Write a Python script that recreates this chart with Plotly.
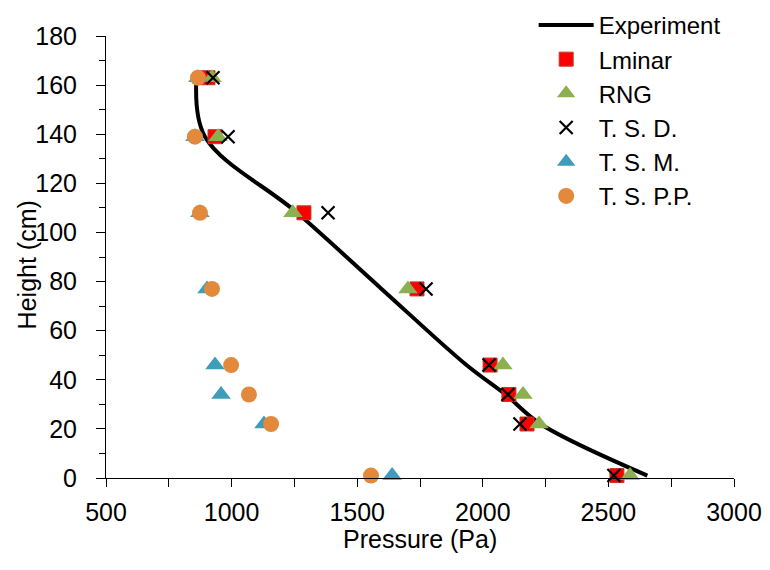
import plotly.graph_objects as go

heights = [163, 139, 108, 77, 46, 34, 22, 1]

exp_p = [860, 894, 1261, 1597, 1935, 2090, 2230, 2655]
lminar_p = [906, 934, 1288, 1738, 2029, 2104, 2176, 2534]
rng_p = [922, 946, 1244, 1702, 2080, 2160, 2224, 2586]
tsd_p = [926, 986, 1384, 1774, 2025, 2100, 2148, 2522]
tsm_p = [866, 854, 874, 902, 934, 958, 1129, 1639]
tspp_p = [866, 854, 874, 922, 998, 1069, 1157, 1555]

x_ticks = [500, 1000, 1500, 2000, 2500, 3000]
y_ticks = [0, 20, 40, 60, 80, 100, 120, 140, 160, 180]

FONT = "Liberation Sans, Arial, sans-serif"
FS = 25

fig = go.Figure()
fig.add_trace(go.Scatter(x=exp_p, y=heights, mode="lines", name="Experiment",
                         line=dict(color="black", width=4, shape="spline", smoothing=1)))
fig.add_trace(go.Scatter(x=lminar_p, y=heights, mode="markers", name="Lminar",
                         marker=dict(symbol="square", size=14, color="#FF0000",
                                     line=dict(color="#C0392B", width=1))))
fig.add_trace(go.Scatter(x=rng_p, y=heights, mode="markers", name="RNG",
                         marker=dict(symbol="triangle-up", size=17, color="#8CB050",
                                     line=dict(width=0))))
fig.add_trace(go.Scatter(x=tsd_p, y=heights, mode="markers", name="T. S. D.",
                         marker=dict(symbol="x-thin-open", size=13, color="black",
                                     line=dict(color="black", width=2.2))))
fig.add_trace(go.Scatter(x=tsm_p, y=heights, mode="markers", name="T. S. M.",
                         marker=dict(symbol="triangle-up", size=17, color="#3E9DB8",
                                     line=dict(width=0))))
fig.add_trace(go.Scatter(x=tspp_p, y=heights, mode="markers", name="T. S. P.P.",
                         marker=dict(symbol="circle", size=16, color="#E3893C",
                                     line=dict(width=0))))

for tr in fig.data:
    tr.cliponaxis = False

axis_common = dict(showgrid=False, zeroline=False, showline=True, linecolor="black",
                   linewidth=1, ticks="outside", tickcolor="black", tickwidth=1,
                   automargin=False,
                   tickfont=dict(family=FONT, size=FS, color="black"))

fig.update_layout(
    width=770, height=570,
    margin=dict(l=106, r=36, t=36, b=92, autoexpand=False),
    paper_bgcolor="white", plot_bgcolor="white",
    font=dict(family=FONT, size=FS, color="black"),
    showlegend=True,
    legend=dict(x=0.681, y=1.075, xanchor="left", yanchor="top",
                bgcolor="rgba(0,0,0,0)", font=dict(family=FONT, size=24, color="black"),
                itemwidth=55, tracegroupgap=0),
    xaxis=dict(range=[500, 3000], tickvals=x_ticks, ticklen=8, ticklabelstandoff=4,
               minor=dict(ticks="outside", dtick=250, ticklen=8, tickcolor="black"),
               **axis_common),
    yaxis=dict(range=[0, 180], tickvals=y_ticks, ticklen=9, ticklabelstandoff=14,
               minor=dict(ticks="outside", dtick=10, ticklen=6, tickcolor="black"),
               **axis_common),
    annotations=[
        dict(text="Pressure (Pa)", xref="paper", yref="paper", x=0.5, y=-0.137,
             xanchor="center", yanchor="middle", showarrow=False,
             font=dict(family=FONT, size=FS, color="black")),
        dict(text="Height (cm)", xref="paper", yref="paper", x=-0.126, y=0.483,
             xanchor="center", yanchor="middle", textangle=-90, showarrow=False,
             font=dict(family=FONT, size=FS, color="black")),
    ],
)

fig.write_html("out.html")
